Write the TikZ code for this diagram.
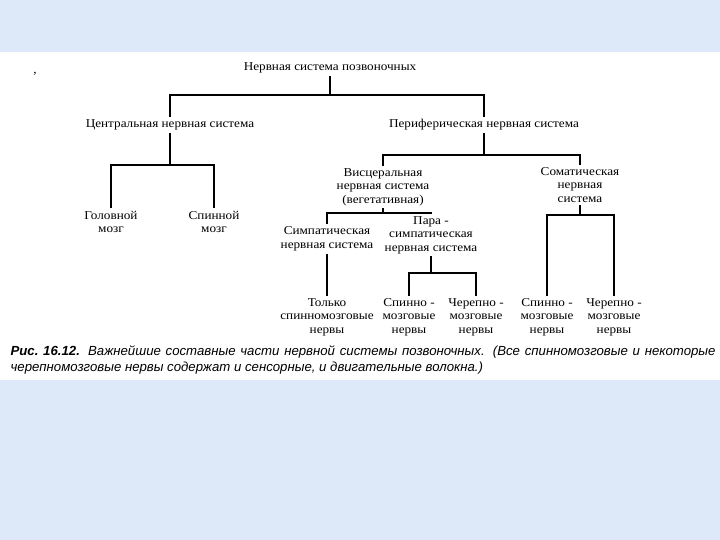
\documentclass[tikz,border=0pt]{standalone}
\usepackage{fontspec}
\setmainfont{Liberation Serif}[FakeStretch=1.1]
\newfontfamily\capfont{Liberation Sans}
\usetikzlibrary{calc}
\definecolor{bgblue}{RGB}{221,233,248}

\begin{document}
\begin{tikzpicture}[x=1pt,y=-1pt,line width=1.2pt,
  lbl/.style={align=center,inner sep=2pt,font=\fontsize{12}{13.5}\selectfont},
  capt/.style={anchor=west,inner sep=0pt,font=\capfont\itshape\fontsize{13.2}{15}\selectfont}]
  \fill[bgblue] (0,0) rectangle (720,540);
  \fill[white] (0,52) rectangle (720,380);
  \useasboundingbox (0,0) rectangle (720,540);

  \node[lbl] (dot) at (35,74) {,};
  \node[lbl] (root) at (330,68) {Нервная система позвоночных};
  \node[lbl] (cns) at (170,125) {Центральная нервная система};
  \node[lbl] (per) at (484,125) {Периферическая нервная система};
  \node[lbl] (brain) at (111,222) {Головной\\мозг};
  \node[lbl] (spinal) at (214,222) {Спинной\\мозг};
  \node[lbl] (visc) at (383,187) {Висцеральная\\нервная система\\(вегетативная)};
  \node[lbl] (soma) at (580,185) {Соматическая\\нервная\\система};
  \node[lbl] (symp) at (327,239) {Симпатическая\\нервная система};
  \node[lbl] (para) at (431,235) {Пара -\\симпатическая\\нервная система};
  \node[lbl] (only) at (327,317) {Только\\спинномозговые\\нервы};
  \node[lbl] (ps) at (409,317) {Спинно -\\мозговые\\нервы};
  \node[lbl] (pc) at (476,317) {Черепно -\\мозговые\\нервы};
  \node[lbl] (ss) at (547,317) {Спинно -\\мозговые\\нервы};
  \node[lbl] (sc) at (614,317) {Черепно -\\мозговые\\нервы};

  \coordinate (b0) at (330,95);
  \coordinate (b1) at (170,165);
  \coordinate (b2) at (484,155);
  \coordinate (b3) at (383,213);
  \coordinate (b4) at (431,273);
  \coordinate (b5) at (580,215);

  \draw (root) -- (b0);
  \draw (cns.north) |- (b0) -| (per.north);
  \draw (cns.south) -- (b1);
  \draw (brain.north) |- (b1) -| (spinal.north);
  \draw (per.south) -- (b2);
  \draw (visc.north) |- (b2) -| (soma.north);
  \draw (visc.south) -- (b3);
  \draw (symp.north) |- (b3) -| (para.north);
  \draw (symp.south) -- (only.north);
  \draw (para.south) -- (b4);
  \draw (ps.north) |- (b4) -| (pc.north);
  \draw (soma.south) -- (b5);
  \draw (ss.north) |- (b5) -| (sc.north);

  \node[capt] (cap1) at (10,352)
    {\makebox[705pt][s]{\textbf{Рис.~16.12.} Важнейшие составные части нервной системы позвоночных. (Все спинномозговые и некоторые}};
  \node[capt] (cap2) at (10,368)
    {черепномозговые нервы содержат и сенсорные, и двигательные волокна.)};
\end{tikzpicture}
\end{document}
